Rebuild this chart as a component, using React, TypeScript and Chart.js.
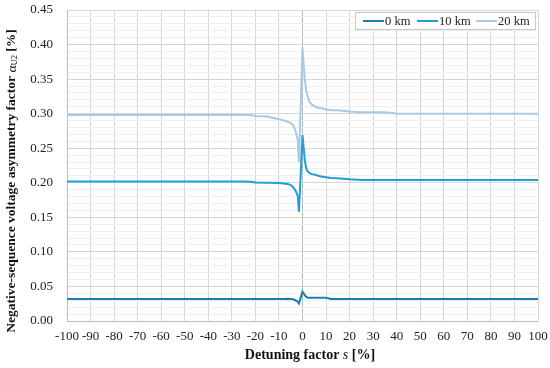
import React, { useEffect, useRef } from "react";
import { Chart, registerables } from "chart.js";
Chart.register(...registerables);

const detuning = [-100,-90,-80,-70,-60,-50,-40,-30,-25,-22,-20,-15,-10,-8,-6,-5,-4,-3,-2,-1.5,0,0.5,1,1.5,2,3,4,5,6,8,10,12,15,20,25,30,35,38,40,50,60,70,80,90,100];
const km20 = [0.298,0.298,0.298,0.298,0.298,0.298,0.298,0.298,0.298,0.298,0.2965,0.296,0.292,0.290,0.288,0.286,0.283,0.276,0.262,0.230,0.396,0.370,0.350,0.335,0.327,0.317,0.313,0.311,0.309,0.308,0.306,0.305,0.305,0.303,0.302,0.302,0.302,0.301,0.300,0.300,0.300,0.300,0.300,0.300,0.300];
const km10 = [0.202,0.202,0.202,0.202,0.202,0.202,0.202,0.202,0.202,0.2015,0.2005,0.200,0.1995,0.199,0.198,0.1965,0.194,0.189,0.181,0.158,0.269,0.250,0.232,0.222,0.217,0.214,0.2125,0.212,0.211,0.209,0.208,0.207,0.2065,0.205,0.204,0.204,0.204,0.204,0.204,0.204,0.204,0.204,0.204,0.204,0.204];
const km0 = [0.032,0.032,0.032,0.032,0.032,0.032,0.032,0.032,0.032,0.032,0.032,0.032,0.032,0.032,0.0322,0.032,0.0315,0.030,0.028,0.0255,0.0424,0.040,0.037,0.0355,0.034,0.0337,0.0337,0.0337,0.0337,0.0337,0.0335,0.032,0.032,0.032,0.032,0.032,0.032,0.032,0.032,0.032,0.032,0.032,0.032,0.032,0.032];
const seriesNames = ["0 km", "10 km", "20 km"];
const seriesColors = ["#1c7db5", "#1ea0d8", "#a6cbe7"];

const FONT = "'Liberation Serif', serif";

const toPts = (ys: number[]) => detuning.map((x, i) => ({ x, y: ys[i] }));

const titlesPlugin = {
  id: "customTitles",
  afterDraw(chart: any) {
    const ctx = chart.ctx;
    ctx.save();
    ctx.fillStyle = "#111";
    ctx.textBaseline = "middle";
    // Y title
    const segs = [
      { t: "Negative-sequence voltage asymmetry factor ", f: `bold 13.5px ${FONT}`, dy: 0 },
      { t: "α", f: `13.5px ${FONT}`, dy: 0 },
      { t: "U2", f: `8.5px ${FONT}`, dy: 3 },
      { t: " [%]", f: `bold 13.5px ${FONT}`, dy: 0 },
    ];
    let total = 0;
    const widths = segs.map((s) => { ctx.font = s.f; const w = ctx.measureText(s.t).width; total += w; return w; });
    ctx.translate(12, 181);
    ctx.rotate(-Math.PI / 2);
    let x = -total / 2;
    ctx.textAlign = "left";
    segs.forEach((s, i) => { ctx.font = s.f; ctx.fillText(s.t, x, s.dy); x += widths[i]; });
    ctx.setTransform(1, 0, 0, 1, 0, 0);
    // X title
    const xs = [
      { t: "Detuning factor ", f: `bold 14px ${FONT}` },
      { t: "s", f: `italic 14px ${FONT}` },
      { t: " [%]", f: `bold 14px ${FONT}` },
    ];
    let tot2 = 0;
    const w2 = xs.map((s) => { ctx.font = s.f; const w = ctx.measureText(s.t).width; tot2 += w; return w; });
    let xx = 310 - tot2 / 2;
    xs.forEach((s, i) => { ctx.font = s.f; ctx.fillText(s.t, xx, 355); xx += w2[i]; });

    // Legend
    const lx = 355, ly = 12, lw = 180, lh = 17;
    ctx.fillStyle = "#ffffff";
    ctx.fillRect(lx, ly, lw, lh);
    ctx.strokeStyle = "#c8c8c8";
    ctx.lineWidth = 1;
    ctx.strokeRect(lx + 0.5, ly + 0.5, lw, lh);
    ctx.font = `12.5px ${FONT}`;
    ctx.fillStyle = "#222";
    const starts = [363, 417, 476];
    seriesNames.forEach((n, i) => {
      ctx.strokeStyle = seriesColors[i];
      ctx.lineWidth = 2;
      ctx.beginPath();
      ctx.moveTo(starts[i], ly + lh / 2 + 0.5);
      ctx.lineTo(starts[i] + 21, ly + lh / 2 + 0.5);
      ctx.stroke();
      ctx.fillText(n, starts[i] + 22, ly + lh / 2 + 1);
    });
    ctx.restore();
  },
};

export default function App() {
  const ref = useRef<HTMLCanvasElement>(null);
  useEffect(() => {
    if (!ref.current) return;
    const data = [km0, km10, km20];
    const chart = new Chart(ref.current, {
      type: "line",
      data: {
        datasets: seriesNames.map((n, i) => ({
          label: n,
          data: toPts(data[i]),
          borderColor: seriesColors[i],
          backgroundColor: seriesColors[i],
          borderWidth: 2,
          pointRadius: 0,
          tension: 0,
          fill: false,
        })),
      },
      options: {
        animation: false,
        responsive: false,
        layout: { padding: { left: 0, top: 10, right: 12, bottom: 0 } },
        plugins: { legend: { display: false }, tooltip: { enabled: false } },
        scales: {
          x: {
            type: "linear",
            min: -100,
            max: 100,
            afterFit: (s: any) => { s.height = 47; s.paddingLeft = 0; s.paddingRight = 0; },
            ticks: { stepSize: 10, color: "#222", font: { family: FONT, size: 13 }, padding: 8, maxRotation: 0, autoSkip: false },
            grid: {
              drawTicks: false,
              color: (c: any) => (c.tick && c.tick.value === 0 ? "#b8b8b8" : "#d6d6d6"),
            },
            border: { color: "#bfbfbf" },
          },
          y: {
            min: 0,
            max: 0.45,
            afterFit: (s: any) => { s.width = 67; s.paddingTop = 0; s.paddingBottom = 0; },
            ticks: {
              stepSize: 0.01,
              autoSkip: false,
              color: "#222",
              font: { family: FONT, size: 13 },
              padding: 14,
              callback: (v: any) => (Math.round(Number(v) * 100) % 5 === 0 ? Number(v).toFixed(2) : ""),
            },
            grid: {
              drawTicks: false,
              color: (c: any) => (c.tick && Math.round(c.tick.value * 100) % 5 === 0 ? "#d6d6d6" : "#eeeeee"),
            },
            border: { color: "#bfbfbf" },
          },
        },
      },
      plugins: [titlesPlugin],
    });
    return () => chart.destroy();
  }, []);
  return (
    <div style={{ position: "fixed", left: 0, top: 0, width: 550, height: 368, background: "#fff" }}>
      <canvas ref={ref} width={550} height={368} style={{ width: 550, height: 368 }} />
    </div>
  );
}
